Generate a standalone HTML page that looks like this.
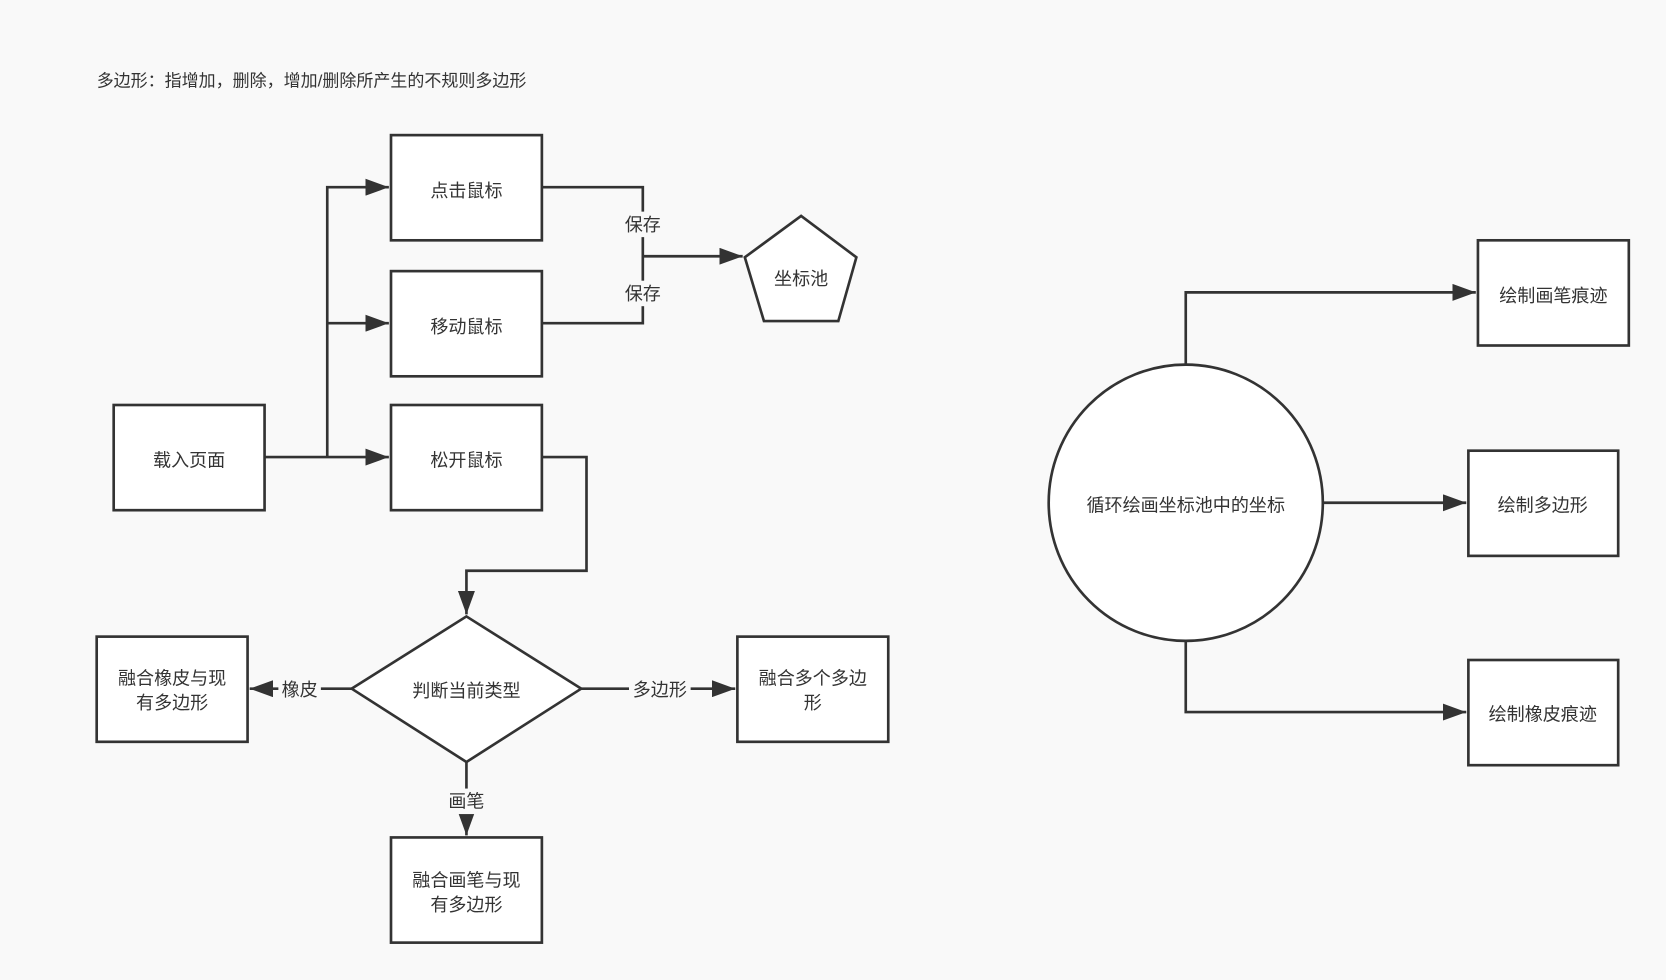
<!DOCTYPE html>
<html><head><meta charset="utf-8"><style>
html,body{margin:0;padding:0;background:#f9f9f9;}
svg{display:block;}
text{font-family:"Liberation Sans","Noto Sans CJK SC",sans-serif;font-size:17px;fill:#333;}
</style></head><body>
<svg width="1666" height="980" viewBox="0 0 1568 922" xmlns="http://www.w3.org/2000/svg">
<defs><marker id="a" markerWidth="10" markerHeight="10" refX="9" refY="5" orient="auto" markerUnits="userSpaceOnUse" viewBox="0 0 10 10"><path d="M0,0 L10,5 L0,10 z" fill="#333"/></marker>
<marker id="b" markerWidth="22" markerHeight="16" refX="22" refY="8" orient="auto" markerUnits="userSpaceOnUse"><path d="M0,0 L22,8 L0,16 z" fill="#333"/></marker></defs>
<rect width="1568" height="922" fill="#f9f9f9"/>
<text x="91" y="81" style="font-size:16px">多边形：指增加，删除，增加/删除所产生的不规则多边形</text>
<g fill="#fff" stroke="#333" stroke-width="2.5">
<rect x="368" y="127" width="142" height="99"/>
<rect x="368" y="255" width="142" height="99"/>
<rect x="368" y="381" width="142" height="99"/>
<rect x="107" y="381" width="142" height="99"/>
<polygon points="754,203 806,242 789,302 719,302 701,242"/>
<polygon points="439,580 547,648 439,717 331,648"/>
<rect x="91" y="599" width="142" height="99"/>
<rect x="694" y="599" width="142" height="99"/>
<rect x="368" y="788" width="142" height="99"/>
<ellipse cx="1116" cy="473" rx="129" ry="130"/>
<rect x="1391" y="226" width="142" height="99"/>
<rect x="1382" y="424" width="141" height="99"/>
<rect x="1382" y="621" width="141" height="99"/>
</g>
<g fill="none" stroke="#333" stroke-width="2.5">
<path d="M249,430 H366" marker-end="url(#b)"/>
<path d="M308,430 V176 H366" marker-end="url(#b)"/>
<path d="M308,304 H366" marker-end="url(#b)"/>
<path d="M510,176 H605 V304 H510"/>
<path d="M605,241 H699" marker-end="url(#b)"/>
<path d="M510,430 H552 V537 H439 V578" marker-end="url(#b)"/>
<path d="M331,648 H235" marker-end="url(#b)"/>
<path d="M547,648 H692" marker-end="url(#b)"/>
<path d="M439,717 V786" marker-end="url(#b)"/>
<path d="M1116,343 V275 H1389" marker-end="url(#b)"/>
<path d="M1245,473 H1380" marker-end="url(#b)"/>
<path d="M1116,604 V670 H1380" marker-end="url(#b)"/>
</g>
<g fill="#f9f9f9">
<rect x="586" y="199" width="38" height="24"/>
<rect x="586" y="264" width="38" height="24"/>
<rect x="262" y="637" width="40" height="24"/>
<rect x="592" y="637" width="58" height="24"/>
<rect x="419" y="742" width="40" height="24"/>
</g>
<g text-anchor="middle">
<text x="605" y="217">保存</text>
<text x="605" y="282">保存</text>
<text x="282" y="655">橡皮</text>
<text x="621" y="655">多边形</text>
<text x="439" y="760">画笔</text>
<text x="439" y="185">点击鼠标</text>
<text x="439" y="313">移动鼠标</text>
<text x="439" y="439">松开鼠标</text>
<text x="178" y="439">载入页面</text>
<text x="754" y="268">坐标池</text>
<text x="439" y="656">判断当前类型</text>
<text x="162" y="644">融合橡皮与现</text>
<text x="162" y="667">有多边形</text>
<text x="765" y="644">融合多个多边</text>
<text x="765" y="667">形</text>
<text x="439" y="834">融合画笔与现</text>
<text x="439" y="857">有多边形</text>
<text x="1116" y="481">循环绘画坐标池中的坐标</text>
<text x="1462" y="284">绘制画笔痕迹</text>
<text x="1452" y="481">绘制多边形</text>
<text x="1452" y="678">绘制橡皮痕迹</text>
</g>
</svg>
</body></html>
